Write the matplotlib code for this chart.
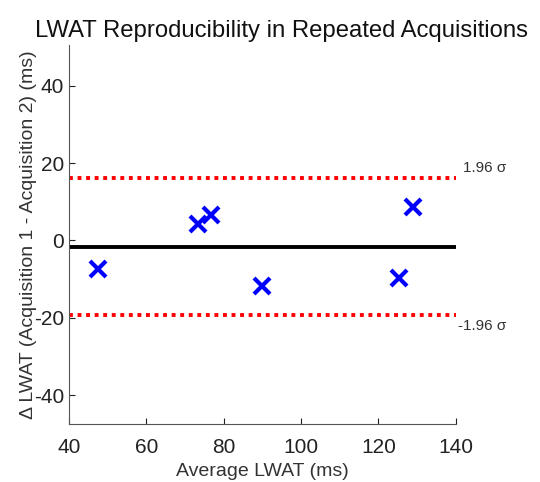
import matplotlib as mpl
mpl.use('Agg')
import matplotlib.pyplot as plt
import numpy as np

plt.rcParams['font.family'] = ['Liberation Sans', 'DejaVu Sans']
plt.rcParams['axes.unicode_minus'] = False

# Bland-Altman data
avg_lwat = [47.5, 73.4, 76.6, 89.9, 125.3, 129.0]
diff_lwat = [-7.5, 4.3, 6.5, -11.7, -9.7, 8.6]
x_ticks = [40, 60, 80, 100, 120, 140]
y_ticks = [-40, -20, 0, 20, 40]

mean_diff = np.mean(diff_lwat)
upper = 16.2
lower = -19.2

fig = plt.figure(figsize=(5.4, 4.82), dpi=100)
ax = fig.add_axes([0.128, 0.120, 0.716, 0.787])

ax.plot([40, 140], [mean_diff, mean_diff], color='black', lw=2.8)
ax.plot([40, 140], [upper, upper], color='red', lw=2.8, ls=(0, (1, 1.2)))
ax.plot([40, 140], [lower, lower], color='red', lw=2.8, ls=(0, (1, 1.2)))
ax.plot(avg_lwat, diff_lwat, 'x', color='blue', ms=11, mew=3)

ax.set_xlim(40, 140)
ax.set_ylim(-47.5, 50.6)
ax.set_xticks(x_ticks)
ax.set_yticks(y_ticks)
ax.tick_params(direction='in', labelsize=15, colors='#222222', length=4)
ax.tick_params(axis='x', pad=10)
for s in ['top', 'right']:
    ax.spines[s].set_visible(False)
for s in ['left', 'bottom']:
    ax.spines[s].set_color('#555555')

ax.set_xlabel('Average LWAT (ms)', fontsize=14, color='#333333', labelpad=4)
ax.set_ylabel('\u0394 LWAT (Acquisition 1 - Acquisition 2) (ms)', fontsize=14,
              color='#333333', labelpad=-2)

ax.text(1.02, upper + 2.5, '1.96 \u03c3', transform=ax.get_yaxis_transform(),
        fontsize=11, color='#333333', va='center', ha='left')
ax.text(1.005, lower - 2.8, '-1.96 \u03c3', transform=ax.get_yaxis_transform(),
        fontsize=11, color='#333333', va='center', ha='left')

fig.text(0.522, 0.935, 'LWAT Reproducibility in Repeated Acquisitions',
         fontsize=17.2, color='#111111', ha='center', va='center')

fig.savefig('out.png', dpi=100)
